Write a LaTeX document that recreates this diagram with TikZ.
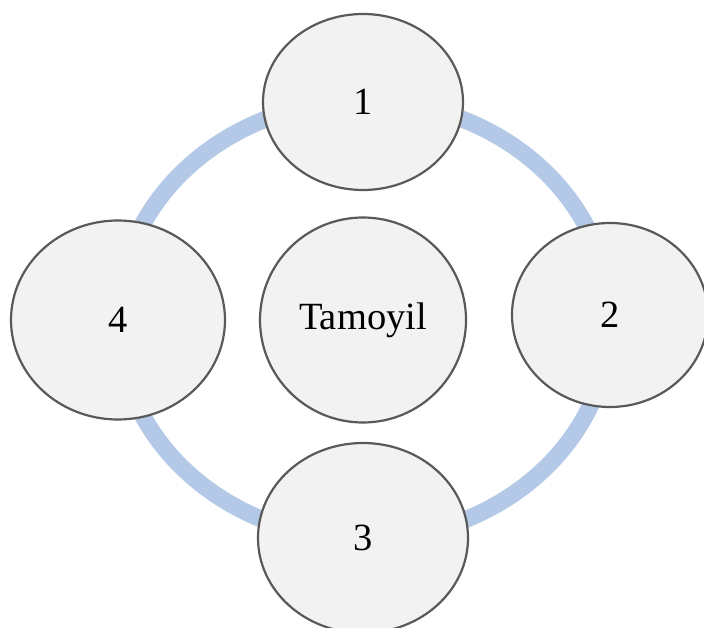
\documentclass[tikz,border=0pt]{standalone}
\usepackage{fontspec}
\setmainfont{Liberation Serif}
\usetikzlibrary{shapes.geometric}

\definecolor{ringblue}{RGB}{180,201,231}
\definecolor{nodefill}{RGB}{242,242,242}
\definecolor{nodeline}{RGB}{89,89,89}

\begin{document}
\begin{tikzpicture}[x=1pt, y=-1pt,
	bubble/.style={ellipse, draw=nodeline, line width=2.2pt, fill=nodefill,
		inner sep=0pt, font=\fontsize{38.5}{46}\selectfont},
	ring/.style={draw=ringblue, line width=17pt}]

	% page frame
	\useasboundingbox (0,0) rectangle (704,628);

	% centre
	\coordinate (O) at (364,320);

	% ring through the four outer bubbles
	\draw[ring] (O) ellipse [x radius=246pt, y radius=219pt];

	% centre bubble
	\node[bubble, minimum width=206pt, minimum height=205pt] (c) at (363,320) {Tamoyil};

	% outer bubbles
	\node[bubble, minimum width=200pt, minimum height=176pt] (n1) at (363,102) {1};
	\node[bubble, minimum width=196pt, minimum height=184pt] (n2) at (610,315) {2};
	\node[bubble, minimum width=210pt, minimum height=190pt] (n3) at (363,538) {3};
	\node[bubble, minimum width=214pt, minimum height=199pt] (n4) at (118,320) {4};

\end{tikzpicture}
\end{document}
